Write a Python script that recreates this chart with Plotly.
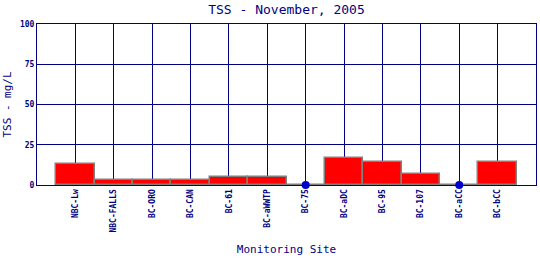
import plotly.graph_objects as go

sites = ["NBC-Lw", "NBC-FALLS", "BC-ORO", "BC-CAN", "BC-61", "BC-aWWTP",
         "BC-75", "BC-aDC", "BC-95", "BC-107", "BC-aCC", "BC-bCC"]
tss = [13, 3, 3, 3, 5, 5, 0, 16.6, 14, 6.6, 0, 14]
y_ticks = [0, 25, 50, 75, 100]

NAVY = "#000080"
MONO = "DejaVu Sans Mono"
xs = list(range(len(sites)))
zero_x = [x for x, v in zip(xs, tss) if v == 0]
zero_y = [0 for v in tss if v == 0]

fig = go.Figure()
fig.add_trace(go.Bar(
    x=xs, y=tss, width=1,
    marker=dict(color="#FF0000", line=dict(color="#808080", width=1.5)),
    showlegend=False,
))
fig.add_trace(go.Scatter(
    x=zero_x, y=zero_y, mode="markers",
    marker=dict(color="#0000CC", size=8),
    showlegend=False, cliponaxis=False,
))

fig.update_layout(
    width=540, height=260,
    margin=dict(l=37, r=4, t=24, b=75),
    paper_bgcolor="white", plot_bgcolor="white",
    title=dict(text="TSS - November, 2005", x=(37 + 536) / 2 / 540, xanchor="center",
               y=1 - 9 / 260, yanchor="middle",
               font=dict(family=MONO, size=13, color=NAVY)),
    font=dict(family=MONO, color=NAVY),
    bargap=0,
)
fig.update_xaxes(
    range=[-1, 12], tickmode="array", tickvals=xs, ticktext=sites,
    tickangle=-90, tickfont=dict(family=MONO, size=8, color=NAVY, weight="bold"),
    showgrid=True, gridcolor=NAVY, gridwidth=1,
    showline=True, linecolor=NAVY, linewidth=1, mirror=True,
    ticks="", zeroline=False,
    title=dict(text="Monitoring Site", font=dict(family=MONO, size=11, color=NAVY), standoff=13),
)
fig.update_yaxes(
    range=[0, 100], tickmode="array", tickvals=y_ticks,
    tickfont=dict(family=MONO, size=8, color=NAVY, weight="bold"),
    showgrid=True, gridcolor=NAVY, gridwidth=1,
    showline=True, linecolor=NAVY, linewidth=1, mirror=True,
    ticks="", zeroline=False,
    title=dict(text="TSS - mg/L", font=dict(family=MONO, size=11, color=NAVY), standoff=6),
)

fig.write_html("out.html")
